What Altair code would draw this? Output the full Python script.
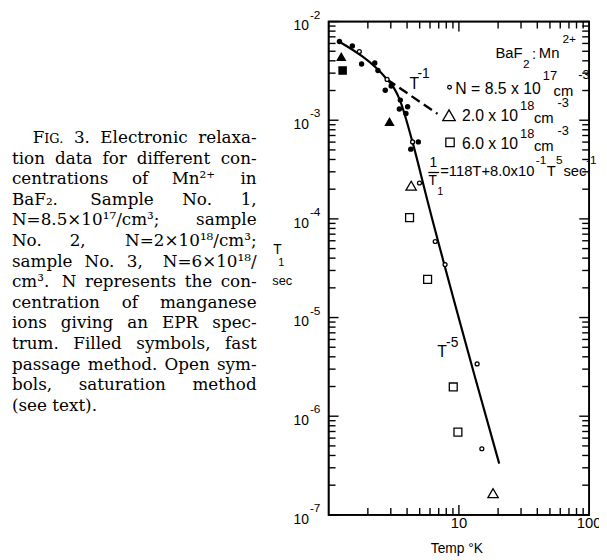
import altair as alt
import pandas as pd

# ---------------- data (T in K, T1 in sec) ----------------
FAST_CIRCLE_T = [1.21, 1.52, 1.79, 2.26, 2.39, 3.02, 2.72, 3.55, 3.49, 4.04, 3.92, 4.88, 4.27]
FAST_CIRCLE_T1 = [6.27e-3, 5.66e-3, 3.72e-3, 3.80e-3, 3.19e-3, 2.22e-3, 2.01e-3, 1.60e-3,
                  1.30e-3, 1.37e-3, 1.17e-3, 6.03e-4, 5.09e-4]
SAT_CIRCLE_T = [1.72, 2.81, 4.41, 4.98, 6.58, 7.83, 13.8, 15.0]
SAT_CIRCLE_T1 = [4.97e-3, 2.59e-3, 6.03e-4, 2.31e-4, 5.9e-5, 3.44e-5, 3.39e-6, 4.68e-7]
FAST_TRI_T = [1.25, 2.93]
FAST_TRI_T1 = [4.43e-3, 9.7e-4]
SAT_TRI_T = [4.30, 18.3]
SAT_TRI_T1 = [2.17e-4, 1.66e-7]
FAST_SQ_T = [1.28]
FAST_SQ_T1 = [3.19e-3]
SAT_SQ_T = [4.18, 5.75, 9.05, 9.83]
SAT_SQ_T1 = [1.03e-4, 2.44e-5, 1.98e-6, 6.9e-7]
FIT_T = [1.20, 2.81, 3.16, 3.51, 4.40, 5.75, 13.4, 20.4]
FIT_T1 = [6.27e-3, 2.59e-3, 2.14e-3, 1.62e-3, 6.03e-4, 1.51e-4, 2.40e-6, 3.31e-7]
DASH_T = [2.81, 6.85]
DASH_T1 = [2.59e-3, 1.16e-3]

X_MAJOR = [10]
X_MINOR = [2, 3, 4, 5, 6, 7, 8, 9, 20, 30, 40, 50, 60, 70, 80, 90]
Y_EXP = [-2, -3, -4, -5, -6, -7]
Y_MINOR_MULT = [2, 3, 4, 5, 6, 7, 8, 9]
X_LABELS = ["10", "100"]
X_LABEL_VALUES = [10, 100]

CAPTION = [
    "FIG. 3. Electronic relaxa-",
    "tion data for different con-",
    "centrations of Mn²⁺ in",
    "BaF₂. Sample No. 1,",
    "N=8.5×10¹⁷/cm³; sample",
    "No. 2, N=2×10¹⁸/cm³;",
    "sample No. 3, N=6×10¹⁸/",
    "cm³. N represents the con-",
    "centration of manganese",
    "ions giving an EPR spec-",
    "trum. Filled symbols, fast",
    "passage method. Open sym-",
    "bols, saturation method",
    "(see text).",
]

# ---------------- layout ----------------
OX, OY = 333, 18          # page position of the plot's upper-left corner
W, H = 264, 500
SERIF = "DejaVu Serif"
SANS = "Liberation Sans, Arial, sans-serif"

XS = alt.Scale(type="log", domain=[1, 100], nice=False)
YS = alt.Scale(type="log", domain=[1e-7, 1e-2], nice=False)
ONE = pd.DataFrame({"k": [0]})


def xy(ts, t1s):
    return alt.Chart(pd.DataFrame({"T": ts, "T1": t1s}))


def enc(ch):
    return ch.encode(x=alt.X("T:Q", scale=XS, axis=None),
                     y=alt.Y("T1:Q", scale=YS, axis=None))


def txt(s, px, py, size=15, font=SANS, align="left", baseline="middle"):
    return alt.Chart(ONE).mark_text(
        text=s, align=align, baseline=baseline, font=font, fontSize=size, color="black"
    ).encode(x=alt.value(px - OX), y=alt.value(py - OY))


layers = []

# ---- frame ----
layers.append(alt.Chart(ONE).mark_rect(fill="transparent", stroke="black", strokeWidth=1.8).encode(
    x=alt.value(0), x2=alt.value(W), y=alt.value(0), y2=alt.value(H)))

# ---- inward ticks on all four sides ----
y_major = [10.0 ** e for e in Y_EXP]
y_minor = [m * 10.0 ** e for e in Y_EXP[1:] for m in Y_MINOR_MULT]


def yticks(vals, length, side):
    x1, x2 = (0, length) if side == "left" else (W - length, W)
    return alt.Chart(pd.DataFrame({"v": vals})).mark_rule(color="black", strokeWidth=1.4).encode(
        y=alt.Y("v:Q", scale=YS, axis=None), x=alt.value(x1), x2=alt.value(x2))


def xticks(vals, length, side):
    y1, y2 = (H - length, H) if side == "bottom" else (0, length)
    return alt.Chart(pd.DataFrame({"v": vals})).mark_rule(color="black", strokeWidth=1.4).encode(
        x=alt.X("v:Q", scale=XS, axis=None), y=alt.value(y1), y2=alt.value(y2))


for side in ("left", "right"):
    layers.append(yticks(y_major, 10, side))
    layers.append(yticks(y_minor, 7, side))
for side in ("bottom", "top"):
    layers.append(xticks(X_MAJOR, 10, side))
    layers.append(xticks(X_MINOR, 7, side))

# ---- fitted curve and T^-1 extrapolation ----
layers.append(enc(xy(FIT_T, FIT_T1).mark_line(color="black", strokeWidth=2.2, interpolate="monotone")))
layers.append(enc(xy(DASH_T, DASH_T1).mark_line(color="black", strokeWidth=2.4, strokeDash=[10, 5])))

# ---- data points ----
layers.append(enc(xy(FAST_CIRCLE_T, FAST_CIRCLE_T1).mark_point(
    shape="circle", filled=True, color="black", size=30, opacity=1)))
layers.append(enc(xy(SAT_CIRCLE_T, SAT_CIRCLE_T1).mark_point(
    shape="circle", filled=True, fill="white", stroke="black", strokeWidth=1.3, size=16, opacity=1)))
layers.append(enc(xy(FAST_TRI_T, FAST_TRI_T1).mark_point(
    shape="triangle-up", filled=True, color="black", size=110, opacity=1)))
layers.append(enc(xy(SAT_TRI_T, SAT_TRI_T1).mark_point(
    shape="triangle-up", filled=True, fill="white", stroke="black", strokeWidth=1.3, size=110, opacity=1)))
layers.append(enc(xy(FAST_SQ_T, FAST_SQ_T1).mark_point(
    shape="square", filled=True, color="black", size=75, opacity=1)))
layers.append(enc(xy(SAT_SQ_T, SAT_SQ_T1).mark_point(
    shape="square", filled=True, fill="white", stroke="black", strokeWidth=1.3, size=64, opacity=1)))

# ---- axis tick labels ----
ylab = pd.DataFrame({"v": y_major, "e": [str(e) for e in Y_EXP]})
layers.append(alt.Chart(ylab).mark_text(text="10", align="right", baseline="middle", font=SANS,
                                        fontSize=14, dy=5, color="black").encode(
    y=alt.Y("v:Q", scale=YS, axis=None), x=alt.value(313 - OX)))
layers.append(alt.Chart(ylab).mark_text(align="left", baseline="middle", font=SANS,
                                        fontSize=12, dy=-7, color="black").encode(
    y=alt.Y("v:Q", scale=YS, axis=None), x=alt.value(314 - OX), text="e:N"))
xlab = pd.DataFrame({"v": X_LABEL_VALUES, "t": X_LABELS})
layers.append(alt.Chart(xlab).mark_text(align="center", baseline="middle", font=SANS,
                                        fontSize=15, color="black").encode(
    x=alt.X("v:Q", scale=XS, axis=None), y=alt.value(526 - OY), text="t:N"))

# axis titles
layers.append(txt("Temp °K", 463, 553, size=14, align="center"))
layers.append(txt("T", 281, 250, size=14, align="center"))
layers.append(txt("1", 285, 263, size=11, align="center"))
layers.append(txt("sec", 286, 281, size=13, align="center"))

# ---- legend ----
layers.append(txt("BaF", 502, 50, size=15))
layers.append(txt("2", 530, 61, size=12))
layers.append(txt(":", 539, 51, size=15))
layers.append(txt("Mn", 546, 50, size=15))
layers.append(txt("2+", 570, 36, size=12))

layers.append(alt.Chart(ONE).mark_point(shape="circle", filled=True, fill="white", stroke="black",
                                        strokeWidth=1.3, size=14, opacity=1).encode(
    x=alt.value(455.5 - OX), y=alt.value(84.5 - OY)))
layers.append(txt("N = 8.5 x 10", 548, 86, size=16, align="right"))
layers.append(txt("17", 550, 73, size=13))
layers.append(txt("cm", 561, 88, size=15))
layers.append(txt("-3", 586, 72, size=13))

layers.append(alt.Chart(ONE).mark_point(shape="triangle-up", filled=True, fill="white", stroke="black",
                                        strokeWidth=1.3, size=160, opacity=1).encode(
    x=alt.value(455 - OX), y=alt.value(113 - OY)))
layers.append(txt("2.0 x 10", 525, 114, size=16, align="right"))
layers.append(txt("18", 527, 104, size=13))
layers.append(txt("cm", 541, 116, size=15))
layers.append(txt("-3", 565, 101, size=13))

layers.append(alt.Chart(ONE).mark_point(shape="square", filled=True, fill="white", stroke="black",
                                        strokeWidth=1.3, size=72, opacity=1).encode(
    x=alt.value(456 - OX), y=alt.value(140.5 - OY)))
layers.append(txt("6.0 x 10", 525, 142, size=16, align="right"))
layers.append(txt("18", 527, 132, size=13))
layers.append(txt("cm", 541, 144, size=15))
layers.append(txt("-3", 565, 129, size=13))

# ---- equation of the fitted curve ----
layers.append(txt("1", 439, 161, size=14, align="center"))
layers.append(alt.Chart(ONE).mark_rule(color="black", strokeWidth=1.3).encode(
    x=alt.value(434 - OX), x2=alt.value(445 - OX), y=alt.value(171 - OY)))
layers.append(txt("T", 438.5, 180, size=14, align="center"))
layers.append(txt("1", 443, 191, size=11))
layers.append(txt("=118T+8.0x10", 446, 170, size=15))
layers.append(txt("-1", 543, 158, size=12))
layers.append(txt("T", 554, 170, size=15))
layers.append(txt("5", 563.5, 158, size=12))
layers.append(txt("sec", 571, 170, size=15))
layers.append(txt("-1", 594, 158, size=12))

# ---- slope labels ----
layers.append(txt("T", 415, 81, size=16))
layers.append(txt("-1", 423, 71, size=14))
layers.append(txt("T", 443, 353, size=16))
layers.append(txt("-5", 452, 344, size=14))

# ---- caption (justified by word placement) ----
CW = {" ": .318, ".": .318, ",": .318, ";": .337, ":": .337, "-": .338, "(": .39, ")": .39,
      "/": .337, "=": .838, "×": .838, "a": .596, "b": .64, "c": .56, "d": .64, "e": .592,
      "f": .37, "g": .64, "h": .644, "i": .32, "j": .31, "k": .606, "l": .32, "m": .948,
      "n": .644, "o": .602, "p": .64, "q": .64, "r": .478, "s": .513, "t": .402, "u": .644,
      "v": .565, "w": .856, "x": .564, "y": .565, "z": .527, "B": .735, "E": .73, "F": .694,
      "M": 1.024, "N": .872, "O": .82, "P": .675, "R": .753, "S": .685, "I": .395, "G": .775}
CAP_SIZE = 17
CAP_L, CAP_R, CAP_INDENT = 12, 260, 21
CAP_Y0, CAP_LH = 141, 20.9


def wwidth(w):
    if w == "FIG.":
        return CW["F"] * CAP_SIZE + (CW["I"] + CW["G"] + CW["."]) * 13
    tot = 0
    for ch in w:
        if ch in CW:
            tot += CW[ch]
        elif ch.isdigit():
            tot += .636
        elif ch in "¹²³⁴⁵⁶⁷⁸⁹⁰⁺₂":
            tot += .40
        else:
            tot += .72 if ch.isupper() else .6
    return tot * CAP_SIZE


for i, line in enumerate(CAPTION):
    yb = CAP_Y0 + i * CAP_LH
    left = CAP_L + (CAP_INDENT if i == 0 else 0)
    if i == len(CAPTION) - 1:
        layers.append(txt(line, left, yb, size=CAP_SIZE, font=SERIF, baseline="alphabetic"))
        continue
    words = line.split(" ")
    widths = [wwidth(w) for w in words]
    gap = (CAP_R - left - sum(widths)) / (len(words) - 1)
    x = left
    for j, w in enumerate(words):
        if j == len(words) - 1:
            layers.append(txt(w, CAP_R, yb, size=CAP_SIZE, font=SERIF, align="right", baseline="alphabetic"))
        elif w == "FIG.":
            layers.append(txt("F", x, yb, size=CAP_SIZE, font=SERIF, baseline="alphabetic"))
            layers.append(txt("IG.", x + CW["F"] * CAP_SIZE, yb, size=13, font=SERIF, baseline="alphabetic"))
        else:
            layers.append(txt(w, x, yb, size=CAP_SIZE, font=SERIF, baseline="alphabetic"))
        x += widths[j] + gap

chart = alt.layer(*layers).properties(
    width=W, height=H,
    padding={"left": OX - 8, "top": OY - 8, "right": 10, "bottom": 42},
    autosize=alt.AutoSizeParams(type="none"),
    background="white",
).configure_view(stroke="black", strokeWidth=1.6)

chart.save("out.html", embed_options={"renderer": "svg", "actions": False})
